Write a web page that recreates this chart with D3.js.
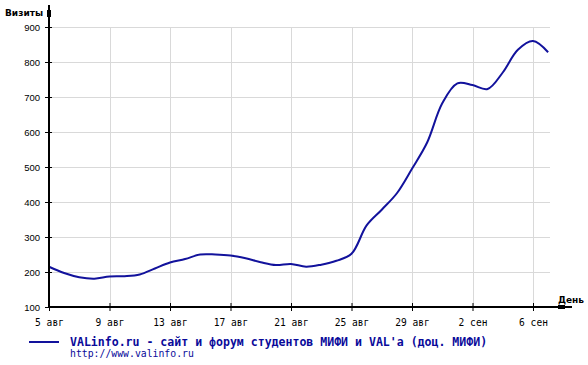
<!DOCTYPE html>
<html><head><meta charset="utf-8">
<script src="https://cdn.jsdelivr.net/npm/d3@7"></script>
<style>body{margin:0;background:#fff}svg{display:block}</style>
</head><body>
<svg id="c" width="588" height="365"></svg>
<script>
const startDate = new Date(2003, 7, 5);
const visits = [215,197,185,181,187,188,193,210,227,237,250,250,247,239,228,220,223,215,221,232,252,333,378,425,495,570,682,739,734,723,770,835,860,828];
const yTicks = [100,200,300,400,500,600,700,800,900];
const tickDays = [0,4,8,12,16,20,24,28,32];
const months = ["янв","фев","мар","апр","май","июн","июл","авг","сен","окт","ноя","дек"];
const yLabel = "Визиты";
const xLabel = "День";
const legendTitle = "VALinfo.ru - сайт и форум студентов МИФИ и VAL'a (доц. МИФИ)";
const legendUrl = "http://www.valinfo.ru";

const dates = visits.map((v,i)=>d3.timeDay.offset(startDate,i));
const tickDates = tickDays.map(d=>d3.timeDay.offset(startDate,d));

const svg = d3.select("#c");
const x = d3.scaleTime().domain([startDate, d3.timeDay.offset(startDate,32)]).range([49,533]);
const y = d3.scaleLinear().domain([100,900]).range([307,27]);
const gridRight = 550;

// grid
svg.append("g").selectAll("line").data(yTicks.slice(1)).join("line")
  .attr("x1",49).attr("x2",gridRight).attr("y1",d=>y(d)+0.5).attr("y2",d=>y(d)+0.5)
  .attr("stroke","#d9d9d9").attr("stroke-width",1);
svg.append("g").selectAll("line").data(tickDates.slice(1)).join("line")
  .attr("x1",d=>Math.round(x(d))+0.5).attr("x2",d=>Math.round(x(d))+0.5).attr("y1",y(900)).attr("y2",y(100))
  .attr("stroke","#d9d9d9").attr("stroke-width",1);

// line
const line = d3.line().x((d,i)=>x(dates[i])).y(d=>y(d)).curve(d3.curveCatmullRom.alpha(0.5));
svg.append("path").datum(visits).attr("d",line).attr("fill","none")
  .attr("stroke","#12129c").attr("stroke-width",2).attr("stroke-linejoin","round");

// axes
const yAxis = d3.axisLeft(y).tickValues(yTicks).tickSize(4).tickFormat(d3.format("d"));
const gy = svg.append("g").attr("transform","translate(49,0)").call(yAxis);
gy.select(".domain").remove();
gy.selectAll(".tick line").attr("x1",-4).attr("x2",3).attr("stroke","#000");
gy.selectAll(".tick text").attr("x",-9).attr("font-family","Liberation Sans, Arial, sans-serif").attr("font-size","9.5px").attr("fill","#000");

const xAxis = d3.axisBottom(x).tickValues(tickDates).tickSize(4)
  .tickFormat(d=>d.getDate()+" "+months[d.getMonth()]);
const gx = svg.append("g").attr("transform","translate(0,307)").call(xAxis);
gx.select(".domain").remove();
gx.selectAll(".tick line").attr("y1",-4).attr("y2",4).attr("stroke","#000");
gx.selectAll(".tick text").attr("y",12).attr("dy","0.71em").attr("font-family","DejaVu Sans Mono, monospace").attr("font-size","9.6px").attr("fill","#000");

// axis lines with arrows
svg.append("line").attr("x1",49).attr("x2",49).attr("y1",308).attr("y2",5).attr("stroke","#000").attr("stroke-width",2);
svg.append("rect").attr("x",47).attr("y",10).attr("width",4).attr("height",7).attr("fill","#000");
svg.append("line").attr("x1",48).attr("x2",572).attr("y1",307).attr("y2",307).attr("stroke","#000").attr("stroke-width",2);
svg.append("rect").attr("x",558).attr("y",305).attr("width",7).attr("height",4).attr("fill","#000");

svg.append("text").attr("x",5).attr("y",16).text(yLabel)
  .attr("font-family","DejaVu Sans, Verdana, sans-serif").attr("font-weight","bold").attr("font-size","9px");
svg.append("text").attr("x",558).attr("y",303).text(xLabel)
  .attr("font-family","DejaVu Sans, Verdana, sans-serif").attr("font-weight","bold").attr("font-size","9px");

// legend
svg.append("line").attr("x1",29).attr("x2",59).attr("y1",342).attr("y2",342).attr("stroke","#12129c").attr("stroke-width",2);
svg.append("text").attr("x",70).attr("y",346).text(legendTitle)
  .attr("font-family","DejaVu Sans Mono, monospace").attr("font-weight","bold").attr("font-size","11.55px").attr("fill","#0a0a9a");
svg.append("text").attr("x",70).attr("y",357).text(legendUrl)
  .attr("font-family","DejaVu Sans Mono, monospace").attr("font-size","9.8px").attr("fill","#0a0a9a");
</script>
</body></html>
